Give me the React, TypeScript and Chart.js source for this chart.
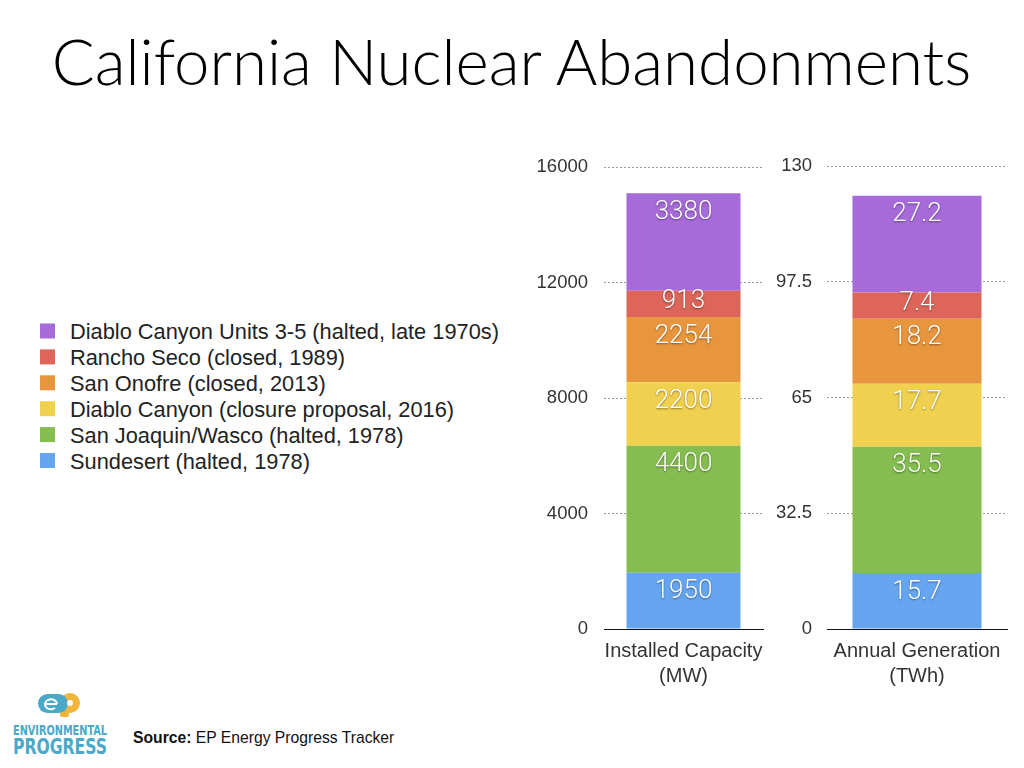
import React, { useEffect, useRef } from "react";
import { Chart, registerables } from "chart.js";

Chart.register(...registerables);

// ---- data (bottom of stack first) ----
const SERIES = [
  "Sundesert (halted, 1978)",
  "San Joaquin/Wasco (halted, 1978)",
  "Diablo Canyon (closure proposal, 2016)",
  "San Onofre (closed, 2013)",
  "Rancho Seco (closed, 1989)",
  "Diablo Canyon Units 3-5 (halted, late 1970s)",
];
const COLORS = ["#66A6F0", "#86BD51", "#F0D04F", "#E8963D", "#DE6559", "#A66BD9"];
const CAPACITY_MW = [1950, 4400, 2200, 2254, 913, 3380];
const GENERATION_TWH = [15.7, 35.5, 17.7, 18.2, 7.4, 27.2];
const CAPACITY_TICKS = [0, 4000, 8000, 12000, 16000];
const GENERATION_TICKS = [0, 32.5, 65, 97.5, 130];
const CAPACITY_LABEL = ["Installed Capacity", "(MW)"];
const GENERATION_LABEL = ["Annual Generation", "(TWh)"];

const TITLE = "California Nuclear Abandonments";

const valueLabelPlugin = {
  id: "valueLabels",
  afterDatasetsDraw(chart: any) {
    const ctx = chart.ctx;
    ctx.save();
    ctx.font = '300 26px Roboto, "Liberation Sans", sans-serif';
    ctx.fillStyle = "#ffffff";
    ctx.textAlign = "center";
    ctx.textBaseline = "middle";
    ctx.shadowColor = "rgba(0,0,0,0.45)";
    ctx.shadowBlur = 2;
    ctx.shadowOffsetY = 1;
    chart.data.datasets.forEach((ds: any, i: number) => {
      const meta = chart.getDatasetMeta(i);
      meta.data.forEach((el: any, j: number) => {
        const p = el.getProps(["x", "y", "base"], true);
        const top = Math.min(p.y, p.base);
        const bottom = Math.max(p.y, p.base);
        const cy = Math.min(top + 19, (top + bottom) / 2 - 2);
        ctx.fillText(String(ds.data[j]), p.x, cy);
      });
    });
    ctx.restore();
  },
};

function makeConfig(
  values: number[],
  ticks: number[],
  label: string[],
  yWidth: number,
  padRight: number,
  tickPad: number,
  height: number
): any {
  return {
    type: "bar",
    data: {
      labels: [label],
      datasets: SERIES.map((name, i) => ({
        label: name,
        data: [values[i]],
        backgroundColor: COLORS[i],
        borderWidth: 0,
        barPercentage: 0.717,
        categoryPercentage: 1,
      })),
    },
    options: {
      responsive: false,
      animation: false,
      events: [],
      layout: { padding: { top: 25, right: padRight, bottom: 0, left: 0 } },
      plugins: { legend: { display: false }, tooltip: { enabled: false }, title: { display: false } },
      scales: {
        x: {
          stacked: true,
          grid: { display: false },
          border: { display: true, color: "#111111", width: 1 },
          ticks: {
            color: "#333333",
            font: { family: '"Liberation Sans", Arial, sans-serif', size: 20, lineHeight: 1.25 },
            padding: 2,
            maxRotation: 0,
            autoSkip: false,
          },
          afterFit: (s: any) => {
            s.height = height - 25 - 464;
          },
        },
        y: {
          stacked: true,
          min: ticks[0],
          max: ticks[ticks.length - 1],
          afterBuildTicks: (s: any) => {
            s.ticks = ticks.map((v) => ({ value: v }));
          },
          afterFit: (s: any) => {
            s.width = yWidth;
          },
          grid: {
            drawTicks: false,
            lineWidth: 1,
            color: (c: any) => (c.tick && c.tick.value === 0 ? "rgba(0,0,0,0)" : "#9a9a9a"),
          },
          border: { display: false, dash: [2, 2] },
          ticks: {
            color: "#333333",
            padding: tickPad,
            font: { family: '"Liberation Sans", Arial, sans-serif', size: 18.5 },
            callback: (v: any) => String(v),
          },
        },
      },
    },
    plugins: [valueLabelPlugin],
  };
}

export default function App() {
  const c1 = useRef<HTMLCanvasElement>(null);
  const c2 = useRef<HTMLCanvasElement>(null);

  useEffect(() => {
    const ch1 = new Chart(c1.current as any, makeConfig(CAPACITY_MW, CAPACITY_TICKS, CAPACITY_LABEL, 74, 7, 16, 560));
    const ch2 = new Chart(c2.current as any, makeConfig(GENERATION_TWH, GENERATION_TICKS, GENERATION_LABEL, 77, 17, 15, 560));
    return () => {
      ch1.destroy();
      ch2.destroy();
    };
  }, []);

  const legendItems = SERIES.map((name, i) => ({ name, color: COLORS[i] })).reverse();

  return (
    <div
      style={{
        position: "absolute",
        left: 0,
        top: 0,
        width: 1024,
        height: 768,
        background: "#ffffff",
        overflow: "hidden",
        fontFamily: '"Liberation Sans", Arial, sans-serif',
      }}
    >
      <svg width={1024} height={768} style={{ position: "absolute", left: 0, top: 0 }}>
        <text
          x={511.5}
          y={85}
          textAnchor="middle"
          fontFamily='Lato, "Liberation Sans", sans-serif'
          fontWeight={300}
          fontSize={63.6}
          fill="#000"
        >
          {TITLE}
        </text>
        {legendItems.map((it, i) => (
          <g key={it.name}>
            <rect x={40} y={323.5 + i * 25.9} width={15} height={15} fill={it.color} />
            <text
              x={70}
              y={339 + i * 25.9}
              fontFamily='"Liberation Sans", Arial, sans-serif'
              fontSize={21.8}
              fill="#222"
            >
              {it.name}
            </text>
          </g>
        ))}
        {/* logo */}
        <g>
          <circle cx={70} cy={703} r={10} fill="#F2B53A" />
          <rect x={60} y={703} width={9} height={14} rx={2} fill="#F2B53A" />
          <rect x={38} y={694} width={30} height={19} rx={9.5} fill="#4AA8C9" />
          <path d="M44 704 h13 M57 704 a6 5 0 1 0 -2 4" stroke="#fff" strokeWidth={2} fill="none" />
          <circle cx={70} cy={703} r={3} fill="#fff" />
          <text
            x={13}
            y={735}
            textLength={94}
            lengthAdjust="spacingAndGlyphs"
            fontFamily='"Liberation Sans Narrow", "DejaVu Sans Condensed", sans-serif'
            fontWeight="bold"
            fontSize={13.5}
            fill="#4AA8C9"
          >
            ENVIRONMENTAL
          </text>
          <text
            x={13}
            y={754}
            textLength={94}
            lengthAdjust="spacingAndGlyphs"
            fontFamily='"Liberation Sans Narrow", "DejaVu Sans Condensed", sans-serif'
            fontWeight="bold"
            fontSize={22}
            fill="#4AA8C9"
          >
            PROGRESS
          </text>
        </g>
        <text x={133} y={743} fontFamily='"Liberation Sans", Arial, sans-serif' fontSize={15.7} fill="#111">
          <tspan fontWeight="bold">Source:</tspan>
          <tspan> EP Energy Progress Tracker</tspan>
        </text>
      </svg>
      <canvas
        ref={c1}
        width={240}
        height={560}
        style={{ position: "absolute", left: 530, top: 140, width: 240, height: 560 }}
      />
      <canvas
        ref={c2}
        width={274}
        height={560}
        style={{ position: "absolute", left: 750, top: 140, width: 274, height: 560 }}
      />
    </div>
  );
}
